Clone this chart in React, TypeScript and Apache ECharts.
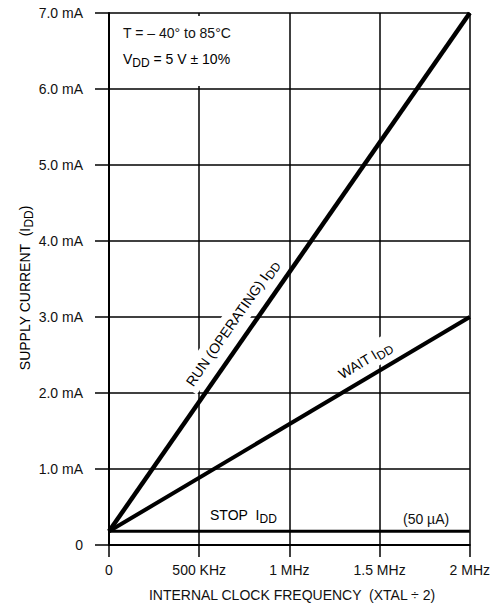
import React, { useEffect, useRef } from "react";
import * as echarts from "echarts";

const freqMHz = [0, 2];
const runIdd = [0.18, 7.0];
const waitIdd = [0.18, 3.0];
const stopIdd = [0.18, 0.18];
const xTickLabels = ["0", "500 KHz", "1 MHz", "1.5 MHz", "2 MHz"];
const yTickLabels = ["0", "1.0 mA", "2.0 mA", "3.0 mA", "4.0 mA", "5.0 mA", "6.0 mA", "7.0 mA"];

const FONT = "Liberation Sans, Arial, sans-serif";
const INK = "#111";

const rich = {
  n: { fontSize: 14, fontFamily: FONT, color: INK },
  s: { fontSize: 12, fontFamily: FONT, color: INK, padding: [8, 0, 0, 0] },
};

function toPairs(ys: number[]) {
  return freqMHz.map((x, i) => [x, ys[i]]);
}

export default function App() {
  const ref = useRef<HTMLDivElement>(null);
  useEffect(() => {
    if (!ref.current) return;
    const chart = echarts.init(ref.current, null, { renderer: "svg" });
    const deg = Math.PI / 180;
    chart.setOption({
      animation: false,
      backgroundColor: "#fff",
      grid: { left: 109, right: 22, top: 13, bottom: 64, containLabel: false },
      xAxis: {
        type: "value",
        min: 0,
        max: 2,
        interval: 0.5,
        axisLine: { show: true, lineStyle: { color: "#000", width: 2 } },
        axisTick: { show: true, length: 12, lineStyle: { color: "#000", width: 1.5 } },
        splitLine: { show: true, lineStyle: { color: "#000", width: 1.5 } },
        axisLabel: {
          margin: 18,
          fontSize: 14,
          fontFamily: FONT,
          color: INK,
          formatter: (v: number) => xTickLabels[Math.round(v / 0.5)] ?? "",
        },
      },
      yAxis: {
        type: "value",
        min: 0,
        max: 7,
        interval: 1,
        axisLine: { show: true, lineStyle: { color: "#000", width: 2 } },
        axisTick: { show: true, length: 14, lineStyle: { color: "#000", width: 1.5 } },
        splitLine: { show: true, lineStyle: { color: "#000", width: 1.5 } },
        axisLabel: {
          margin: 26,
          fontSize: 14,
          fontFamily: FONT,
          color: INK,
          formatter: (v: number) => yTickLabels[Math.round(v)] ?? "",
        },
      },
      series: [
        {
          name: "RUN (OPERATING) IDD",
          type: "line",
          data: toPairs(runIdd),
          showSymbol: false,
          lineStyle: { color: "#000", width: 4.5 },
          z: 3,
        },
        {
          name: "WAIT IDD",
          type: "line",
          data: toPairs(waitIdd),
          showSymbol: false,
          lineStyle: { color: "#000", width: 4 },
          z: 3,
        },
        {
          name: "STOP IDD",
          type: "line",
          data: toPairs(stopIdd),
          showSymbol: false,
          lineStyle: { color: "#000", width: 3 },
          z: 3,
        },
      ],
      graphic: [
        {
          type: "rect",
          z: 1,
          shape: { x: 113, y: 16, width: 160, height: 70 },
          style: { fill: "#fff" },
        },
        {
          type: "text",
          z: 2,
          x: 123,
          y: 33,
          style: { text: "T = – 40° to 85°C", fontSize: 14, fontFamily: FONT, fill: INK, verticalAlign: "middle" },
        },
        {
          type: "text",
          z: 2,
          x: 123,
          y: 59,
          style: { text: "{n|V}{s|DD}{n| = 5 V ± 10%}", rich, verticalAlign: "middle" },
        },
        {
          type: "text",
          z: 1,
          x: 232,
          y: 323,
          rotation: 55.2 * deg,
          style: {
            text: "{n|RUN (OPERATING) I}{s|DD}",
            rich,
            align: "center",
            verticalAlign: "middle",
            backgroundColor: "#fff",
            padding: [2, 4],
          },
        },
        {
          type: "text",
          z: 1,
          x: 365,
          y: 360,
          rotation: 31.1 * deg,
          style: {
            text: "{n|WAIT I}{s|DD}",
            rich,
            align: "center",
            verticalAlign: "middle",
            backgroundColor: "#fff",
            padding: [2, 4],
          },
        },
        {
          type: "text",
          z: 2,
          x: 210,
          y: 515,
          style: { text: "{n|STOP  I}{s|DD}", rich, verticalAlign: "middle" },
        },
        {
          type: "text",
          z: 2,
          x: 403,
          y: 519,
          style: { text: "(50 µA)", fontSize: 14, fontFamily: FONT, fill: INK, verticalAlign: "middle" },
        },
        {
          type: "text",
          z: 2,
          x: 292,
          y: 595,
          style: {
            text: "INTERNAL CLOCK FREQUENCY  (XTAL ÷ 2)",
            fontSize: 14,
            fontFamily: FONT,
            fill: INK,
            align: "center",
            verticalAlign: "middle",
          },
        },
        {
          type: "text",
          z: 2,
          x: 25,
          y: 288,
          rotation: 90 * deg,
          style: {
            text: "{n|SUPPLY CURRENT  (I}{s|DD}{n|)}",
            rich,
            align: "center",
            verticalAlign: "middle",
          },
        },
      ],
    });
    return () => chart.dispose();
  }, []);
  return <div ref={ref} style={{ width: 493, height: 609, position: "absolute", left: 0, top: 0 }} />;
}
